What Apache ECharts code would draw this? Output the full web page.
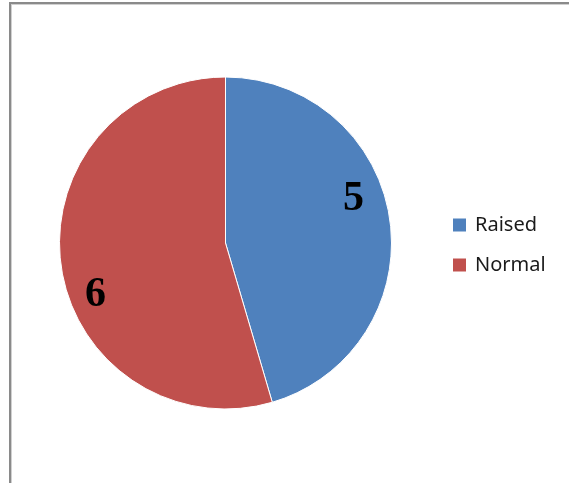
<!DOCTYPE html>
<html>
<head>
<meta charset="utf-8">
<script src="https://cdn.jsdelivr.net/npm/echarts@6/dist/echarts.min.js"></script>
<style>
  html, body { margin: 0; padding: 0; background: #fff; }
  #chart { width: 569px; height: 483px; }
</style>
</head>
<body>
<div id="chart"></div>
<script>
// Slice categories and their counts
const categories = ['Raised', 'Normal'];
const counts = [5, 6];
const sliceColors = ['#4F81BD', '#C0504D'];

// Label placement nudges per slice (pixels from the default inside spot)
const labelOffsets = [[43, -32], [-45, 40]];

const chart = echarts.init(document.getElementById('chart'), null, { renderer: 'canvas' });

chart.setOption({
  animation: false,
  backgroundColor: '#ffffff',
  graphic: [
    { type: 'line', shape: { x1: 9, y1: 3, x2: 569, y2: 3 }, style: { stroke: '#8a8a8a', lineWidth: 2 } },
    { type: 'line', shape: { x1: 10, y1: 2, x2: 10, y2: 483 }, style: { stroke: '#8a8a8a', lineWidth: 2 } },
    { type: 'line', shape: { x1: 11, y1: 4.5, x2: 569, y2: 4.5 }, style: { stroke: '#d0d0d0', lineWidth: 1 } },
    { type: 'line', shape: { x1: 11.5, y1: 4, x2: 11.5, y2: 483 }, style: { stroke: '#d0d0d0', lineWidth: 1 } }
  ],
  legend: {
    orient: 'vertical',
    left: 446,
    top: 207,
    itemWidth: 15,
    itemHeight: 15,
    itemGap: 14,
    icon: 'rect',
    data: categories,
    textStyle: {
      fontFamily: 'Noto Sans',
      fontSize: 20,
      lineHeight: 26,
      color: '#1a1a1a',
      padding: [0, 0, 0, 3]
    }
  },
  series: [{
    type: 'pie',
    center: [225.5, 243],
    radius: 166,
    startAngle: 90,
    clockwise: true,
    avoidLabelOverlap: false,
    itemStyle: { borderColor: '#ffffff', borderWidth: 1 },
    emphasis: { disabled: true },
    labelLine: { show: false },
    label: {
      show: true,
      position: 'inside',
      formatter: '{c}',
      fontFamily: 'Liberation Serif',
      fontWeight: 'bold',
      fontSize: 42,
      color: '#000000'
    },
    data: categories.map((name, i) => ({
      name: name,
      value: counts[i],
      itemStyle: { color: sliceColors[i] },
      label: { offset: labelOffsets[i] }
    }))
  }]
});
</script>
</body>
</html>
